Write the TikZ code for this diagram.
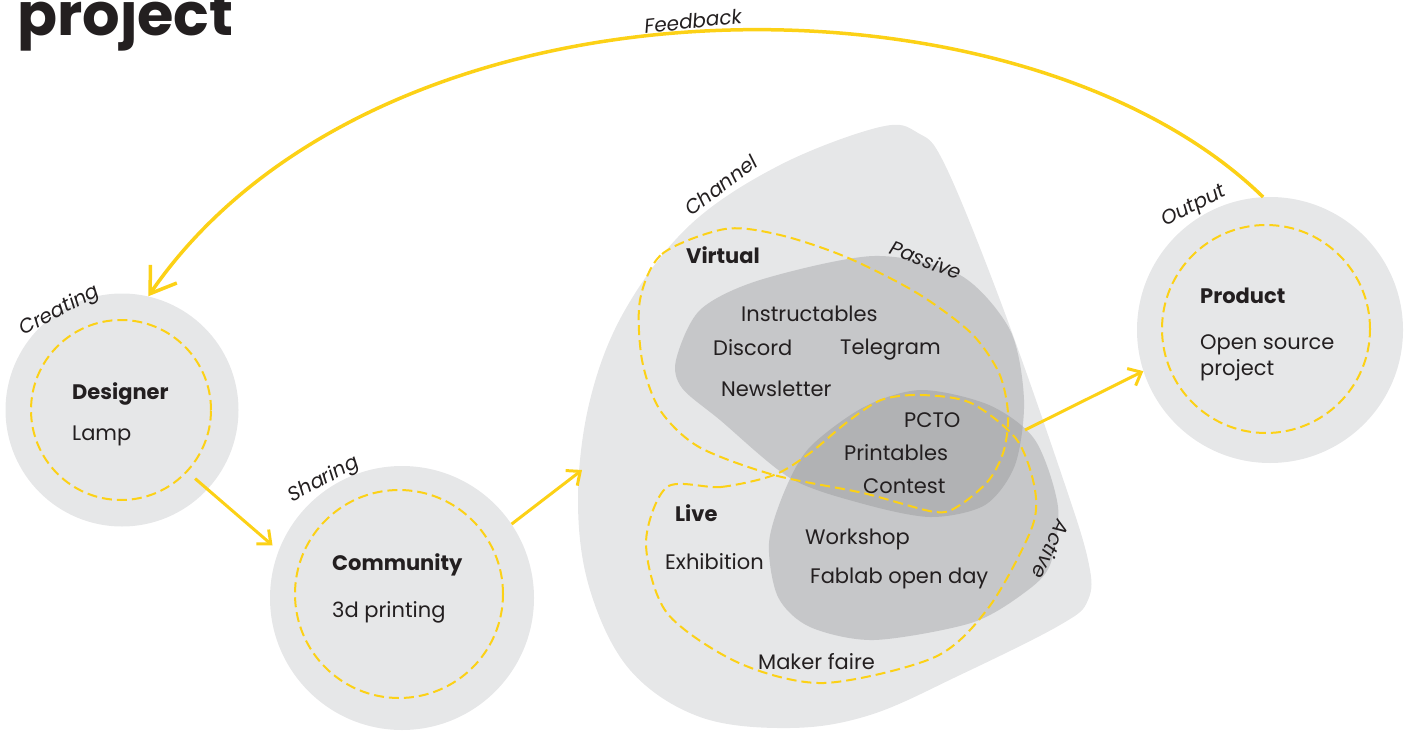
\documentclass[tikz,border=0pt]{standalone}
\usepackage{fontspec}
\setmainfont{Poppins}
\usetikzlibrary{arrows.meta}
\definecolor{lgray}{HTML}{E6E7E8}
\definecolor{mgray}{HTML}{C6C7C9}
\definecolor{dgray}{HTML}{B1B2B4}
\definecolor{yel}{HTML}{FCD116}
\definecolor{ink}{HTML}{231F20}
\begin{document}
\begin{tikzpicture}[x=1pt,y=-1pt,
  txt/.style={anchor=base west, inner sep=0pt, text=ink, font=\fontsize{21}{24}\selectfont},
  hd/.style={anchor=base west, inner sep=0pt, text=ink, font=\bfseries\fontsize{21}{24}\selectfont},
  lbl/.style={inner sep=0pt, text=ink, font=\itshape\fontsize{20}{22}\selectfont},
  disc/.style={circle, fill=lgray, inner sep=0pt},
  ring/.style={circle, draw=yel, line width=2pt, dash pattern=on 10pt off 5pt, inner sep=0pt},
  loop/.style={draw=yel, line width=2pt, dash pattern=on 10pt off 5pt},
  arr/.style={draw=yel, line width=3pt, -{Straight Barb[length=11pt,width=19pt]}},
  bigarr/.style={draw=yel, line width=3.5pt, -{Straight Barb[length=24pt,width=32pt]}},
]
\useasboundingbox (0,0) rectangle (1410,733);

% title
\node[anchor=base west, inner sep=0pt, text=ink, font=\bfseries\fontsize{59}{62}\selectfont] (title) at (17,36) {project};

% channel blob
\fill[lgray] plot[smooth cycle, tension=0.6] coordinates {(880,127) (918,133) (945,165) (1000,300) (1060,470) (1088,560) (1088,600) (1060,625) (960,675) (870,715) (790,728) (700,717) (630,670) (590,590) (578,500) (590,400) (625,310) (690,225) (780,165)};
% passive blob
\fill[mgray] plot[smooth cycle] coordinates {(676,360) (700,310) (760,280) (874,256) (960,275) (1010,330) (1024,400) (1015,465) (985,505) (930,517) (860,503) (790,478) (720,420) (682,388)};
% active blob
\fill[mgray] plot[smooth cycle] coordinates {(921,390) (989,405) (1035,440) (1058,507) (1050,565) (1024,593) (971,623) (874,640) (810,627) (778,597) (769,543) (785,490) (810,447) (864,407)};
% overlap
\begin{scope}
\clip plot[smooth cycle] coordinates {(676,360) (700,310) (760,280) (874,256) (960,275) (1010,330) (1024,400) (1015,465) (985,505) (930,517) (860,503) (790,478) (720,420) (682,388)};
\fill[dgray] plot[smooth cycle] coordinates {(921,390) (989,405) (1035,440) (1058,507) (1050,565) (1024,593) (971,623) (874,640) (810,627) (778,597) (769,543) (785,490) (810,447) (864,407)};
\end{scope}
% dashed loops
\draw[loop] plot[smooth cycle] coordinates {(640,300) (662,254) (725,229) (780,235) (846,257) (917,293) (971,333) (999,373) (1008,413) (1004,450) (989,480) (960,505) (935,512) (863,493) (774,475) (699,447) (660,410) (642,360)};
\draw[loop] plot[smooth cycle] coordinates {(667,487) (721,487) (774,475) (810,453) (846,423) (881,400) (921,395) (971,403) (1017,440) (1035,490) (1031,530) (989,607) (935,657) (824,683) (739,663) (667,613) (646,543)};

% circles
\node[disc, minimum size=233pt] (des) at (122,410) {};
\node[ring, minimum size=180pt] (desd) at (121,410) {};
\node[disc, minimum size=264pt] (com) at (402,598) {};
\node[ring, minimum size=208pt] (comd) at (399,594) {};
\node[disc, minimum size=266pt] (prod) at (1270,330) {};
\node[ring, minimum size=208pt] (prodd) at (1266,329) {};

\coordinate (chin) at (582,470);
\coordinate (chout) at (1025,430);

% arrows
\draw[arr, shorten <=10pt, shorten >=8pt] (desd.-43) -- (com.159);
\draw[arr] (com.34) -- (chin);
\draw[arr] (chout) -- (prod.198);
\draw[bigarr] (prod.93) .. controls (1020,-40) and (380,-40) .. (des.77);

% circle texts
\node[hd] (tdes) at (72,399) {Designer};
\node[txt] (tlamp) at (72,440) {Lamp};
\node[hd] (tcom) at (332,570) {Community};
\node[txt] (t3d) at (332,617) {3d printing};
\node[hd] (tprod) at (1200,303) {Product};
\node[txt] (tos) at (1200,349) {Open source};
\node[txt] (tproj) at (1200,375) {project};

% channel texts
\node[hd] (tvir) at (686,263) {Virtual};
\node[txt] (tins) at (741,321) {Instructables};
\node[txt] (tdis) at (713,355) {Discord};
\node[txt] (ttel) at (840,354) {Telegram};
\node[txt] (tnew) at (721,396) {Newsletter};
\node[txt] (tpcto) at (904,427) {PCTO};
\node[txt] (tprint) at (844,460) {Printables};
\node[txt] (tcont) at (863,493) {Contest};
\node[hd] (tlive) at (675,521) {Live};
\node[txt] (twork) at (805,544) {Workshop};
\node[txt] (texh) at (665,569) {Exhibition};
\node[txt] (tfab) at (810,583) {Fablab open day};
\node[txt] (tmak) at (758,669) {Maker faire};

% italic labels
\node[lbl, rotate=6] (lfeed) at (693,21) {Feedback};
\node[lbl, rotate=28] (lcre) at (60,311) {Creating};
\node[lbl, rotate=28] (lsha) at (324,480) {Sharing};
\node[lbl, rotate=27] (lout) at (1194,207) {Output};
\node[lbl, rotate=37] (lcha) at (721,185) {Channel};
\node[lbl, rotate=-21] (lpas) at (926,260) {Passive};
\node[lbl, rotate=-115] (lact) at (1051,550) {Active};
\end{tikzpicture}
\end{document}
